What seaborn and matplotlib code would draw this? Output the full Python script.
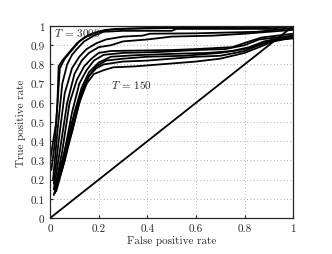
import matplotlib
matplotlib.use("Agg")
import matplotlib.pyplot as plt
import seaborn as sns
import pandas as pd

sns.set_style("ticks")
plt.rcParams["font.family"] = ["cmr10", "DejaVu Serif"]
plt.rcParams["mathtext.fontset"] = "cm"
plt.rcParams["axes.unicode_minus"] = False

# ROC curves, from best (T=3000) to worst (T=150)
curves = [
    ([0.005, 0.02, 0.03, 0.035, 0.05, 0.07, 0.09, 0.11, 0.14, 0.17, 0.21, 0.27, 0.4, 0.7, 1.0],
     [0.25, 0.4, 0.6, 0.79, 0.82, 0.85, 0.88, 0.91, 0.94, 0.96, 0.975, 0.985, 0.99, 0.995, 1.0]),
    ([0.0, 0.025, 0.04, 0.06, 0.08, 0.10, 0.12, 0.15, 0.19, 0.23, 0.3, 0.5, 0.8, 1.0],
     [0.3, 0.5, 0.78, 0.83, 0.86, 0.89, 0.92, 0.945, 0.965, 0.98, 0.985, 0.99, 0.99, 1.0]),
    ([0.012, 0.03, 0.05, 0.07, 0.09, 0.11, 0.14, 0.18, 0.22, 0.3, 0.5, 0.52, 0.9, 1.0],
     [0.2, 0.45, 0.7, 0.8, 0.85, 0.88, 0.92, 0.95, 0.97, 0.975, 0.975, 0.985, 0.985, 1.0]),
    ([0.015, 0.035, 0.06, 0.09, 0.12, 0.15, 0.19, 0.23, 0.3, 0.38, 0.41, 0.6, 0.85, 1.0],
     [0.18, 0.4, 0.65, 0.78, 0.84, 0.88, 0.91, 0.93, 0.945, 0.95, 0.96, 0.962, 0.97, 0.99]),
    ([0.015, 0.04, 0.07, 0.1, 0.13, 0.16, 0.2, 0.25, 0.3, 0.4, 0.5, 0.67, 0.8, 1.0],
     [0.15, 0.35, 0.6, 0.75, 0.82, 0.86, 0.89, 0.9, 0.92, 0.93, 0.945, 0.95, 0.96, 0.98]),
    ([0.02, 0.05, 0.08, 0.11, 0.14, 0.17, 0.2, 0.25, 0.35, 0.5, 0.6, 0.75, 0.82, 0.87, 1.0],
     [0.15, 0.35, 0.6, 0.72, 0.79, 0.83, 0.86, 0.87, 0.872, 0.875, 0.88, 0.89, 0.92, 0.94, 0.96]),
    ([0.02, 0.06, 0.09, 0.12, 0.15, 0.18, 0.22, 0.3, 0.45, 0.6, 0.72, 0.8, 0.86, 1.0],
     [0.14, 0.35, 0.55, 0.7, 0.77, 0.82, 0.85, 0.86, 0.865, 0.875, 0.88, 0.9, 0.93, 0.95]),
    ([0.02, 0.06, 0.1, 0.13, 0.16, 0.2, 0.25, 0.35, 0.5, 0.65, 0.75, 0.82, 0.88, 1.0],
     [0.13, 0.3, 0.55, 0.68, 0.76, 0.81, 0.84, 0.848, 0.855, 0.86, 0.87, 0.89, 0.92, 0.95]),
    ([0.025, 0.06, 0.1, 0.13, 0.16, 0.19, 0.23, 0.3, 0.4, 0.55, 0.7, 0.8, 0.88, 1.0],
     [0.14, 0.3, 0.5, 0.65, 0.74, 0.79, 0.82, 0.83, 0.84, 0.845, 0.86, 0.88, 0.91, 0.94]),
    ([0.02, 0.05, 0.09, 0.13, 0.16, 0.19, 0.22, 0.3, 0.4, 0.5, 0.6, 0.7, 0.8, 0.9, 1.0],
     [0.16, 0.3, 0.5, 0.66, 0.74, 0.78, 0.8, 0.815, 0.82, 0.83, 0.84, 0.845, 0.87, 0.92, 0.94]),
    ([0.015, 0.05, 0.09, 0.12, 0.15, 0.18, 0.22, 0.26, 0.35, 0.5, 0.6, 0.7, 0.8, 0.88, 0.93, 1.0],
     [0.12, 0.28, 0.45, 0.6, 0.7, 0.75, 0.77, 0.785, 0.79, 0.805, 0.815, 0.83, 0.86, 0.9, 0.93, 0.935]),
]
chance_x = [0.0, 1.0]
chance_y = [0.0, 1.0]

x_ticks = [0, 0.2, 0.4, 0.6, 0.8, 1]
x_labels = ["0", "0.2", "0.4", "0.6", "0.8", "1"]
y_ticks = [0, 0.1, 0.2, 0.3, 0.4, 0.5, 0.6, 0.7, 0.8, 0.9, 1]
y_labels = ["0", "0.1", "0.2", "0.3", "0.4", "0.5", "0.6", "0.7", "0.8", "0.9", "1"]

rows = []
for i, (xs, ys) in enumerate(curves):
    for k, (a, b) in enumerate(zip(xs, ys)):
        rows.append({"curve": i, "order": k, "fpr": a, "tpr": b})
df = pd.DataFrame(rows)

fig = plt.figure(figsize=(3.32, 2.55), dpi=100)
ax = fig.add_axes([0.151, 0.141, 0.732, 0.753])

for i, g in df.groupby("curve"):
    sns.lineplot(data=g, x="fpr", y="tpr", sort=False, estimator=None,
                 color="black", lw=1.3, ax=ax)
sns.lineplot(x=chance_x, y=chance_y, color="black", lw=1.3, ax=ax)

ax.set_xlim(0, 1)
ax.set_ylim(0, 1)
ax.set_xticks(x_ticks)
ax.set_xticklabels(x_labels)
ax.set_yticks(y_ticks)
ax.set_yticklabels(y_labels)
ax.tick_params(direction="in", length=2, labelsize=8, pad=4)
ax.grid(True, linestyle=(0, (1, 3)), color="#999999", lw=0.6)
for s in ax.spines.values():
    s.set_linewidth(0.9)
ax.set_xlabel("False positive rate", fontsize=8, labelpad=1)
ax.set_ylabel("True positive rate", fontsize=8, labelpad=3)

ax.text(0.015, 0.97, r"$T$ = 3000", fontsize=8, va="center", ha="left")
ax.text(0.25, 0.70, r"$T$ = 150", fontsize=8, va="center", ha="left")

fig.savefig("out.png", dpi=100)
